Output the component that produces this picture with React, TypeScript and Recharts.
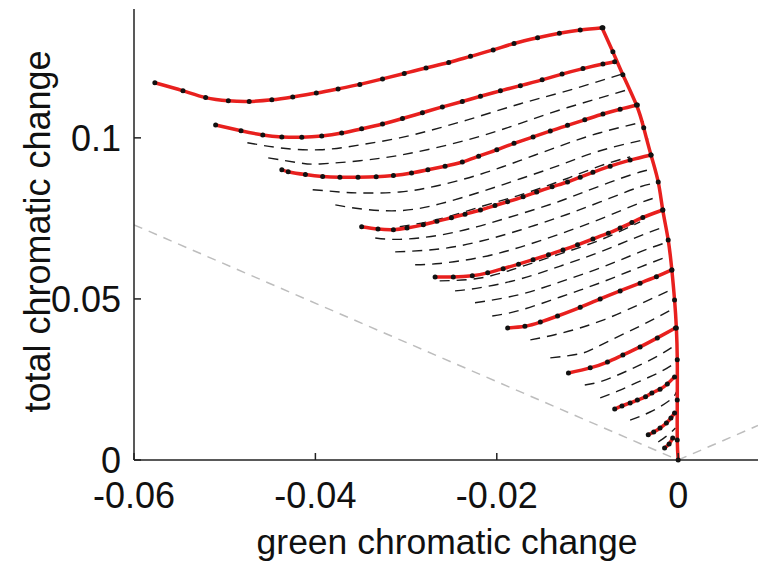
import React from 'react';
import { ComposedChart, Line, XAxis, YAxis } from 'recharts';

type Pt = [number, number];

// red fitted curves (with sample dots), top to bottom
const curve1: Pt[] = [[-0.0577,0.1171],[-0.0546,0.1146],[-0.0521,0.1125],[-0.0496,0.1115],[-0.0473,0.1113],[-0.0448,0.1118],[-0.0425,0.1127],[-0.0399,0.1139],[-0.0375,0.1152],[-0.0351,0.1166],[-0.0326,0.1183],[-0.0302,0.1200],[-0.0278,0.1217],[-0.0253,0.1234],[-0.0229,0.1253],[-0.0204,0.1273],[-0.0181,0.1293],[-0.0155,0.1311],[-0.0131,0.1325],[-0.0108,0.1335],[-0.0083,0.1342]];
const curve2: Pt[] = [[-0.0510,0.1040],[-0.0482,0.1022],[-0.0458,0.1009],[-0.0437,0.1003],[-0.0415,0.1002],[-0.0393,0.1006],[-0.0371,0.1015],[-0.0349,0.1028],[-0.0326,0.1043],[-0.0304,0.1060],[-0.0282,0.1078],[-0.0260,0.1096],[-0.0238,0.1113],[-0.0218,0.1129],[-0.0196,0.1146],[-0.0174,0.1162],[-0.0150,0.1180],[-0.0128,0.1198],[-0.0105,0.1215],[-0.0083,0.1229],[-0.0070,0.1236]];
const curve3: Pt[] = [[-0.0437,0.0901],[-0.0430,0.0895],[-0.0411,0.0886],[-0.0392,0.0880],[-0.0373,0.0878],[-0.0353,0.0878],[-0.0333,0.0879],[-0.0314,0.0883],[-0.0294,0.0891],[-0.0276,0.0901],[-0.0257,0.0912],[-0.0238,0.0925],[-0.0220,0.0943],[-0.0200,0.0963],[-0.0181,0.0983],[-0.0160,0.1003],[-0.0141,0.1021],[-0.0122,0.1039],[-0.0103,0.1056],[-0.0083,0.1074],[-0.0064,0.1089],[-0.0045,0.1102]];
const curve4: Pt[] = [[-0.0349,0.0724],[-0.0331,0.0717],[-0.0314,0.0715],[-0.0299,0.0720],[-0.0281,0.0730],[-0.0266,0.0741],[-0.0250,0.0752],[-0.0235,0.0763],[-0.0218,0.0776],[-0.0202,0.0790],[-0.0188,0.0802],[-0.0171,0.0817],[-0.0156,0.0832],[-0.0139,0.0848],[-0.0122,0.0863],[-0.0108,0.0878],[-0.0094,0.0893],[-0.0075,0.0912],[-0.0053,0.0931],[-0.0030,0.0947]];
const curve5: Pt[] = [[-0.0268,0.0568],[-0.0248,0.0568],[-0.0227,0.0572],[-0.0210,0.0581],[-0.0193,0.0594],[-0.0176,0.0608],[-0.0160,0.0622],[-0.0143,0.0637],[-0.0127,0.0652],[-0.0111,0.0668],[-0.0094,0.0686],[-0.0077,0.0704],[-0.0064,0.0720],[-0.0051,0.0737],[-0.0039,0.0753],[-0.0017,0.0776]];
const curve6: Pt[] = [[-0.0188,0.0410],[-0.0169,0.0415],[-0.0152,0.0428],[-0.0133,0.0447],[-0.0108,0.0474],[-0.0086,0.0500],[-0.0064,0.0525],[-0.0042,0.0549],[-0.0024,0.0569],[-0.0007,0.0590]];
const curve7: Pt[] = [[-0.0121,0.0270],[-0.0097,0.0286],[-0.0078,0.0304],[-0.0061,0.0326],[-0.0042,0.0351],[-0.0023,0.0379],[-0.0003,0.0410]];
const curve8: Pt[] = [[-0.0070,0.0158],[-0.0062,0.0168],[-0.0053,0.0177],[-0.0045,0.0186],[-0.0036,0.0196],[-0.0029,0.0208],[-0.0020,0.0220],[-0.0012,0.0236],[-0.0004,0.0258]];
const curve9: Pt[] = [[-0.0033,0.0078],[-0.0027,0.0087],[-0.0020,0.0099],[-0.0013,0.0115],[-0.0008,0.0130],[-0.0004,0.0146]];
const curve10: Pt[] = [[-0.0015,0.0037],[-0.0010,0.0050],[-0.0006,0.0068]];

// red outer edge from the top curve down to the origin
const edge: Pt[] = [[-0.0084,0.1342],[-0.0072,0.1267],[-0.0061,0.1196],[-0.0046,0.1102],[-0.0038,0.1031],[-0.0030,0.0947],[-0.0022,0.0863],[-0.0017,0.0776],[-0.0011,0.0683],[-0.0007,0.0590],[-0.0004,0.0497],[-0.0002,0.0410],[-0.0001,0.0311],[-0.0001,0.0186],[-0.0001,0.0062],[0,0]];

// black dashed intermediate curves
const dashA: Pt[] = [[-0.0475,0.0985],[-0.0439,0.0969],[-0.0395,0.0963],[-0.0351,0.0978],[-0.0307,0.1000],[-0.0263,0.1031],[-0.0218,0.1068],[-0.0174,0.1106],[-0.0130,0.1140],[-0.0086,0.1177],[-0.0061,0.1199]];
const dashB: Pt[] = [[-0.0452,0.0938],[-0.0417,0.0922],[-0.0395,0.0919],[-0.0351,0.0929],[-0.0307,0.0946],[-0.0263,0.0972],[-0.0218,0.1005],[-0.0174,0.1045],[-0.0130,0.1087],[-0.0086,0.1124],[-0.0053,0.1152]];
const dashD1: Pt[] = [[-0.0403,0.0839],[-0.0373,0.0832],[-0.0351,0.0829],[-0.0307,0.0832],[-0.0263,0.0853],[-0.0218,0.0887],[-0.0174,0.0930],[-0.0130,0.0975],[-0.0086,0.1016],[-0.0038,0.1050]];
const dashD2: Pt[] = [[-0.0378,0.0792],[-0.0351,0.0780],[-0.0307,0.0774],[-0.0263,0.0795],[-0.0218,0.0832],[-0.0174,0.0873],[-0.0130,0.0916],[-0.0086,0.0960],[-0.0033,0.0997]];
const dashK: Pt[] = [[-0.0307,0.0724],[-0.0263,0.0748],[-0.0218,0.0786],[-0.0174,0.0823],[-0.0130,0.0866],[-0.0086,0.0913],[-0.0053,0.0941]];
const dashE1: Pt[] = [[-0.0334,0.0689],[-0.0307,0.0685],[-0.0263,0.0698],[-0.0218,0.0727],[-0.0174,0.0764],[-0.0130,0.0804],[-0.0086,0.0851],[-0.0042,0.0894],[-0.0027,0.0901]];
const dashE2: Pt[] = [[-0.0312,0.0646],[-0.0263,0.0655],[-0.0218,0.0679],[-0.0174,0.0714],[-0.0130,0.0755],[-0.0086,0.0801],[-0.0042,0.0848],[-0.0021,0.0860]];
const dashE3: Pt[] = [[-0.0290,0.0606],[-0.0263,0.0610],[-0.0218,0.0629],[-0.0174,0.0661],[-0.0130,0.0702],[-0.0086,0.0748],[-0.0042,0.0798],[-0.0018,0.0820]];
const dashL: Pt[] = [[-0.0263,0.0556],[-0.0218,0.0565],[-0.0174,0.0599],[-0.0130,0.0640],[-0.0086,0.0683],[-0.0042,0.0739]];
const dashF1: Pt[] = [[-0.0246,0.0525],[-0.0218,0.0535],[-0.0174,0.0562],[-0.0130,0.0602],[-0.0086,0.0646],[-0.0042,0.0696],[-0.0015,0.0724]];
const dashF2: Pt[] = [[-0.0224,0.0488],[-0.0174,0.0514],[-0.0130,0.0553],[-0.0086,0.0596],[-0.0042,0.0646],[-0.0011,0.0677]];
const dashF3: Pt[] = [[-0.0205,0.0447],[-0.0174,0.0465],[-0.0130,0.0506],[-0.0086,0.0550],[-0.0042,0.0599],[-0.0009,0.0634]];
const dashG1: Pt[] = [[-0.0163,0.0373],[-0.0130,0.0393],[-0.0086,0.0431],[-0.0042,0.0484],[-0.0006,0.0531]];
const dashG2: Pt[] = [[-0.0141,0.0317],[-0.0108,0.0330],[-0.0086,0.0356],[-0.0042,0.0416],[-0.0004,0.0472]];
const dashH1: Pt[] = [[-0.0103,0.0233],[-0.0086,0.0243],[-0.0064,0.0267],[-0.0042,0.0295],[-0.0020,0.0327],[-0.0003,0.0357]];
const dashH2: Pt[] = [[-0.0086,0.0193],[-0.0064,0.0217],[-0.0042,0.0245],[-0.0020,0.0273],[-0.0002,0.0304]];
const dashI1: Pt[] = [[-0.0053,0.0124],[-0.0031,0.0149],[-0.0009,0.0186],[-0.0002,0.0211]];
const dashJ1: Pt[] = [[-0.0022,0.0056],[-0.0011,0.0078],[-0.0003,0.0099]];

// grey dashed guide lines through the origin
const guideLeft: Pt[] = [[-0.06,0.073],[0,0]];
const guideRight: Pt[] = [[0,0],[0.0088,0.0107]];

const xTicks = [-0.06, -0.04, -0.02, 0];
const xTopTicks = [-0.04, -0.02, 0];
const yTicks = [0, 0.05, 0.1];

const redCurves = [curve1, curve2, curve3, curve4, curve5, curve6, curve7, curve8, curve9, curve10];
const dashedCurves = [dashA, dashB, dashD1, dashD2, dashK, dashE1, dashE2, dashE3, dashL, dashF1, dashF2, dashF3, dashG1, dashG2, dashH1, dashH2, dashI1, dashJ1];

const rows = (pts: Pt[]) => pts.map(([x, y]) => ({ x, y }));

const FONT = '"Liberation Sans", Arial, Helvetica, sans-serif';
const RED = '#e8201e';

const YTitle = ({ viewBox }: any) => {
  const cy = viewBox.y + viewBox.height / 2 - 3;
  return (
    <text x={37} y={cy} transform={`rotate(-90 37 ${cy})`} textAnchor="middle" dominantBaseline="central"
      fontSize={36} fill="#111" fontFamily={FONT}>
      total chromatic change
    </text>
  );
};

const XTitle = ({ viewBox }: any) => {
  const cx = viewBox.x + viewBox.width / 2 + 1;
  return (
    <text x={cx} y={viewBox.y + 94} textAnchor="middle" fontSize={35.5} fill="#111" fontFamily={FONT}>
      green chromatic change
    </text>
  );
};

export default function App() {
  return (
    <div style={{ position: 'absolute', left: 0, top: 0, width: 758, height: 567, background: '#fff' }}>
      <ComposedChart width={758} height={567} margin={{ top: 9, right: 0, left: 0, bottom: 0 }}>
        <XAxis
          dataKey="x"
          type="number"
          domain={[-0.06, 0.0088]}
          allowDataOverflow
          ticks={xTicks}
          interval={0}
          height={107}
          tickSize={-7}
          tickMargin={29}
          axisLine={{ stroke: '#222', strokeWidth: 1.5 }}
          tickLine={{ stroke: '#222', strokeWidth: 1.5 }}
          tick={{ fontSize: 36, fill: '#111', fontFamily: FONT }}
          label={<XTitle />}
        />
        <XAxis
          xAxisId="top"
          orientation="top"
          dataKey="x"
          type="number"
          domain={[-0.06, 0.0088]}
          allowDataOverflow
          ticks={xTopTicks}
          interval={0}
          height={0}
          tickSize={-7}
          tick={false}
          axisLine={{ stroke: '#222', strokeWidth: 1.5 }}
          tickLine={{ stroke: '#222', strokeWidth: 1.5 }}
        />
        <YAxis
          type="number"
          domain={[0, 0.14]}
          ticks={yTicks}
          interval={0}
          width={134}
          tickSize={-7}
          tickMargin={20}
          axisLine={{ stroke: '#222', strokeWidth: 1.5 }}
          tickLine={{ stroke: '#222', strokeWidth: 1.5 }}
          tick={{ fontSize: 36, fill: '#111', fontFamily: FONT }}
          label={<YTitle />}
        />
        <Line data={rows(guideLeft)} dataKey="y" type="linear" stroke="#bdbdbd" strokeWidth={1.5}
          strokeDasharray="9 7" dot={false} isAnimationActive={false} />
        <Line data={rows(guideRight)} dataKey="y" type="linear" stroke="#bdbdbd" strokeWidth={1.5}
          strokeDasharray="9 7" dot={false} isAnimationActive={false} />
        {dashedCurves.map((c, i) => (
          <Line key={`d${i}`} data={rows(c)} dataKey="y" type="natural" stroke="#1a1a1a" strokeWidth={1.4}
            strokeDasharray="10 7" dot={false} isAnimationActive={false} />
        ))}
        {redCurves.map((c, i) => (
          <Line key={`r${i}`} data={rows(c)} dataKey="y" type="natural" stroke={RED} strokeWidth={3.5}
            dot={{ r: 2.5, fill: '#111', stroke: 'none' }} isAnimationActive={false} />
        ))}
        <Line data={rows(edge)} dataKey="y" type="natural" stroke={RED} strokeWidth={3.5}
          dot={{ r: 2.5, fill: '#111', stroke: 'none' }} isAnimationActive={false} />
      </ComposedChart>
    </div>
  );
}
